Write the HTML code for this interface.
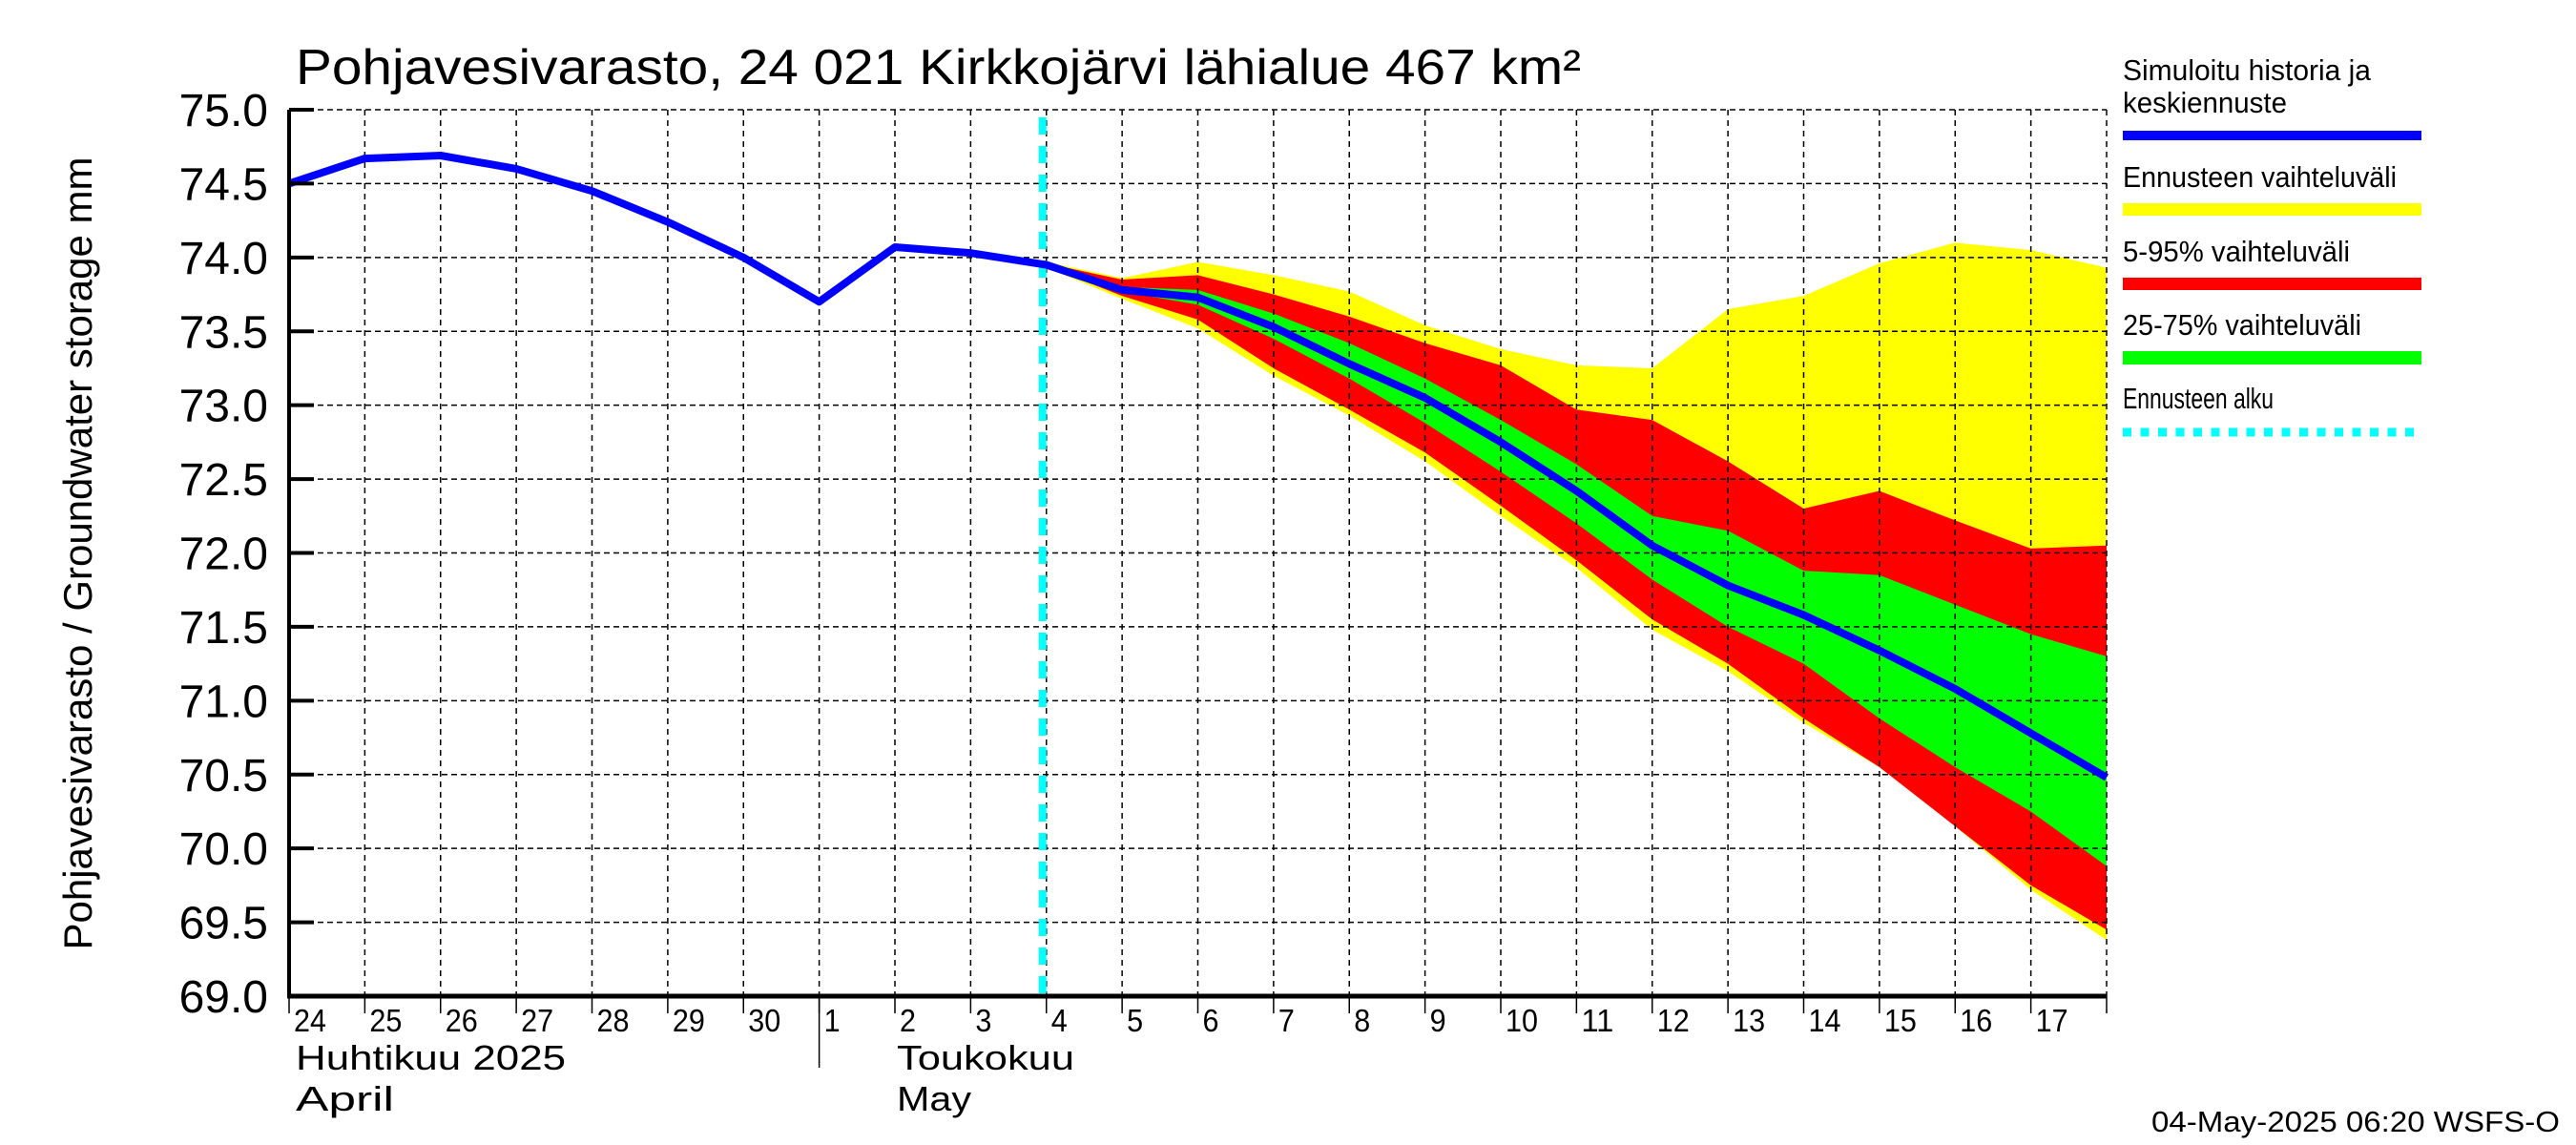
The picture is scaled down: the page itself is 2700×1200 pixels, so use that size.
<!DOCTYPE html>
<html><head><meta charset="utf-8"><style>
html,body{margin:0;padding:0;background:#fff;}
svg{display:block;font-family:"Liberation Sans",sans-serif;}
</style></head><body>
<svg id="chart" width="2700" height="1200" viewBox="0 0 2700 1200" xmlns="http://www.w3.org/2000/svg">
<g id="bands"></g>
<g id="grid"></g>
<g id="lines"></g>
<g id="axes"></g>
<text x="310" y="88" font-size="52" textLength="1347" lengthAdjust="spacingAndGlyphs">Pohjavesivarasto, 24 021 Kirkkojärvi lähialue 467 km²</text>
<text transform="translate(96,580) rotate(-90)" text-anchor="middle" font-size="42">Pohjavesivarasto / Groundwater storage   mm</text>
<g>
<text x="2225" y="84" font-size="31" textLength="260" lengthAdjust="spacingAndGlyphs">Simuloitu historia ja</text>
<text x="2225" y="118" font-size="31" textLength="172" lengthAdjust="spacingAndGlyphs">keskiennuste</text>
<rect x="2225" y="137" width="313" height="10" fill="#0000ff"/>
<text x="2225" y="196" font-size="31" textLength="287" lengthAdjust="spacingAndGlyphs">Ennusteen vaihteluväli</text>
<rect x="2225" y="213" width="313" height="13" fill="#ffff00"/>
<text x="2225" y="274" font-size="31" textLength="238" lengthAdjust="spacingAndGlyphs">5-95% vaihteluväli</text>
<rect x="2225" y="291" width="313" height="13" fill="#ff0000"/>
<text x="2225" y="351" font-size="31" textLength="250" lengthAdjust="spacingAndGlyphs">25-75% vaihteluväli</text>
<rect x="2225" y="368" width="313" height="14" fill="#00ff00"/>
<text x="2225" y="428" font-size="31" textLength="158" lengthAdjust="spacingAndGlyphs">Ennusteen alku</text>
<line x1="2225" y1="453" x2="2538" y2="453" stroke="#00ffff" stroke-width="9" stroke-dasharray="9,9.5"/>
</g>
<text x="310" y="1121" font-size="36" textLength="283" lengthAdjust="spacingAndGlyphs">Huhtikuu  2025</text>
<text x="310" y="1164" font-size="36" textLength="103" lengthAdjust="spacingAndGlyphs">April</text>
<text x="940" y="1121" font-size="36" textLength="186" lengthAdjust="spacingAndGlyphs">Toukokuu</text>
<text x="940" y="1164" font-size="36" textLength="78" lengthAdjust="spacingAndGlyphs">May</text>
<text x="2683" y="1186" font-size="31" text-anchor="end" textLength="428" lengthAdjust="spacingAndGlyphs">04-May-2025 06:20 WSFS-O</text>
</svg>
<script>
const dayLabels=["24","25","26","27","28","29","30","1","2","3","4","5","6","7","8","9","10","11","12","13","14","15","16","17"];
const yTicks=[69.0,69.5,70.0,70.5,71.0,71.5,72.0,72.5,73.0,73.5,74.0,74.5,75.0];
const simulated=[74.5,74.67,74.69,74.6,74.45,74.24,74.0,73.7,74.07,74.03,73.95,73.78,73.73,73.53,73.28,73.05,72.75,72.42,72.05,71.78,71.58,71.34,71.08,70.78,70.48];
const forecastStartIndex=10;
const rangeUpper=[73.97,73.86,73.97,73.88,73.77,73.54,73.38,73.27,73.25,73.65,73.74,73.96,74.1,74.05,73.93];
const rangeLower=[73.93,73.72,73.52,73.2,72.93,72.62,72.25,71.9,71.48,71.2,70.85,70.55,70.15,69.72,69.38];
const p95=[73.96,73.85,73.88,73.75,73.6,73.42,73.27,72.97,72.9,72.62,72.3,72.42,72.22,72.03,72.05];
const p5=[73.94,73.74,73.58,73.25,72.97,72.68,72.32,71.95,71.55,71.25,70.88,70.55,70.15,69.75,69.45];
const p75=[73.95,73.8,73.78,73.62,73.42,73.18,72.9,72.6,72.25,72.15,71.88,71.85,71.65,71.45,71.3];
const p25=[73.94,73.77,73.68,73.45,73.18,72.88,72.55,72.2,71.82,71.5,71.25,70.88,70.55,70.25,69.88];

const X0=303,X1=2208,Y0=1044,Y1=115,NDAYS=24,YMIN=69,YMAX=75;
const xs=i=>X0+(X1-X0)*i/NDAYS;
const ys=v=>Y0-(Y0-Y1)*(v-YMIN)/(YMAX-YMIN);
const NS="http://www.w3.org/2000/svg";
function mk(tag,parent,attrs){const e=document.createElementNS(NS,tag);for(const k in attrs)e.setAttribute(k,attrs[k]);parent.appendChild(e);return e;}
const bands=document.getElementById('bands'),grid=document.getElementById('grid'),lines=document.getElementById('lines'),axes=document.getElementById('axes');
function band(up,lo,color,name){
  let pts=up.map((v,i)=>xs(forecastStartIndex+i)+','+ys(v));
  pts=pts.concat(lo.map((v,i)=>xs(forecastStartIndex+i)+','+ys(v)).reverse());
  const p=mk('polygon',bands,{points:pts.join(' '),fill:color});
  
  
}
band(rangeUpper,rangeLower,'#ffff00','band-forecast-range');
band(p95,p5,'#ff0000','band-5-95');
band(p75,p25,'#00ff00','band-25-75');
// grid
for(let i=1;i<=NDAYS;i++){
  const l=mk('line',grid,{x1:xs(i),y1:Y1,x2:xs(i),y2:Y0,stroke:'#000','stroke-width':1.5,'stroke-dasharray':'6,5'});
  
  
}
yTicks.forEach(v=>{
  if(v===YMIN)return;
  const l=mk('line',grid,{x1:X0,y1:ys(v),x2:X1,y2:ys(v),stroke:'#000','stroke-width':1.5,'stroke-dasharray':'6,4'});
  
  
});
// forecast start
const fs=mk('line',lines,{x1:xs(forecastStartIndex)-4,y1:Y1+8,x2:xs(forecastStartIndex)-4,y2:Y0,stroke:'#00ffff','stroke-width':8,'stroke-dasharray':'18,12'});


// simulated line
const sl=mk('polyline',lines,{points:simulated.map((v,i)=>xs(i)+','+ys(v)).join(' '),fill:'none',stroke:'#0000ff','stroke-width':8,'stroke-linejoin':'round'});


// axes
const ya=mk('line',axes,{x1:X0,y1:Y1,x2:X0,y2:Y0+2,stroke:'#000','stroke-width':4});


const xa=mk('line',axes,{x1:X0-2,y1:Y0,x2:X1,y2:Y0,stroke:'#000','stroke-width':5});


yTicks.forEach(v=>{
  const t=mk('line',axes,{x1:X0,y1:ys(v),x2:X0+26,y2:ys(v),stroke:'#000','stroke-width':4});
  
  
  const tx=mk('text',axes,{x:X0-22,y:ys(v)+17,'font-size':48,'text-anchor':'end'});
  tx.textContent=v.toFixed(1);
  
  
});
for(let i=0;i<=NDAYS;i++){
  const t=mk('line',axes,{x1:xs(i),y1:Y0,x2:xs(i),y2:Y0+18,stroke:'#000','stroke-width':1.5});
  
  
}
dayLabels.forEach((d,i)=>{
  const tx=mk('text',axes,{x:xs(i)+5,y:Y0+37,'font-size':33,textLength:d.length*17,lengthAdjust:'spacingAndGlyphs'});
  tx.textContent=d;
  
  
});
const ms=mk('line',axes,{x1:xs(7),y1:Y0,x2:xs(7),y2:Y0+75,stroke:'#000','stroke-width':1.5});


</script>
</body></html>
